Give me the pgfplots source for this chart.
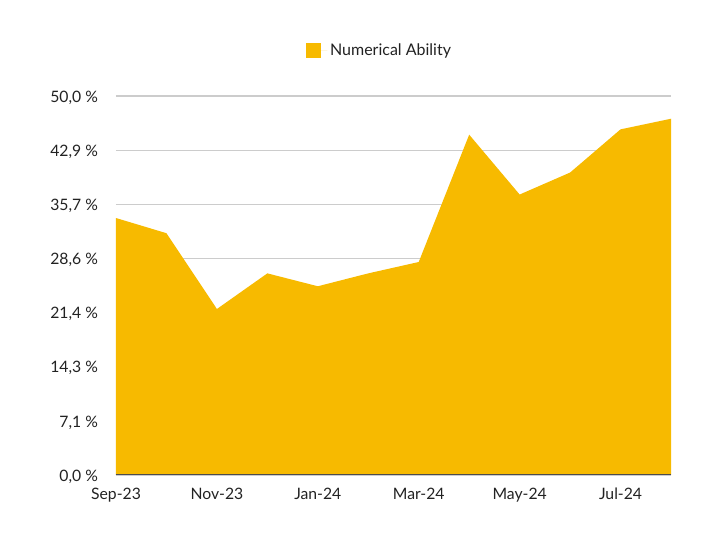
\documentclass[border=0pt]{standalone}
\usepackage{pgfplots}
\pgfplotsset{compat=1.18}
\usepackage{fontspec}
\setmainfont{Lato}
\definecolor{yel}{HTML}{F7BA00}
\definecolor{gridc}{HTML}{CCCCCC}
\definecolor{txt}{HTML}{222222}
\begin{document}
\begin{tikzpicture}[x=0.75pt,y=0.75pt]
\path[use as bounding box] (-116,-74) rectangle (605,475);
\begin{axis}[
  at={(0,0)}, anchor=origin,
  scale only axis,
  width=416.25pt, height=284.25pt,
  xmin=0, xmax=11, ymin=0, ymax=50,
  axis line style={draw=none},
  xtick={0,2,4,6,8,10},
  xticklabels={Sep-23,Nov-23,Jan-24,Mar-24,May-24,Jul-24},
  ytick={0,7.142857,14.285714,21.428571,28.571429,35.714286,42.857143,50},
  yticklabels={{0,0 \%},{7,1 \%},{14,3 \%},{21,4 \%},{28,6 \%},{35,7 \%},{42,9 \%},{50,0 \%}},
  major tick length=0pt,
  ymajorgrids=true,
  grid style={gridc, line width=0.9pt},
  tick label style={font=\fontsize{11.8}{13}\selectfont, text=txt},
  yticklabel style={xshift=-10pt, yshift=-1.2pt},
  xticklabel style={yshift=-6pt},
  legend style={draw=none, fill=none, at={(axis description cs:0.342,1.119)}, anchor=west,
    font=\fontsize{12}{14}\selectfont, text=txt, inner sep=0pt,
    legend cell align=left},
  legend image code/.code={\fill[#1] (0pt,-5.6pt) rectangle (11.25pt,5.6pt);
    \path (0pt,0pt) -- (16pt,0pt);},
]
\addplot[draw=none, fill=yel] coordinates {
  (0,33.9) (1,31.9) (2,21.9) (3,26.6) (4,24.9) (5,26.6) (6,28.1)
  (7,44.9) (8,37.0) (9,39.9) (10,45.6) (11,47.0)
} \closedcycle;
\legend{Numerical Ability}
\draw[black!70, line width=1pt] (axis cs:0,0) -- (axis cs:11,0);
\end{axis}
\end{tikzpicture}
\end{document}
